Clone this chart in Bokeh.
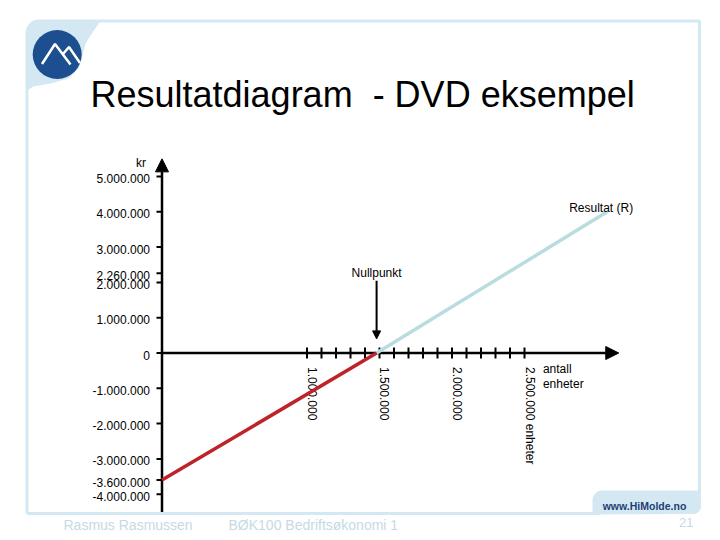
import numpy as np
from bokeh.plotting import figure
from bokeh.models import Range1d, Arrow, NormalHead
from bokeh.core.properties import value
from bokeh.embed import file_html
from bokeh.resources import INLINE

# ---------------- data ----------------
UNITS = [0, 1_480_000, 3_070_000]                 # antall enheter
RESULT = [-3_600_000, 0, 4_000_000]               # resultat (kr)
BREAK_EVEN_UNITS = 1_480_000

Y_TICKS = [5_000_000, 4_000_000, 3_000_000, 2_260_000, 2_000_000, 1_000_000, 0,
           -1_000_000, -2_000_000, -3_000_000, -3_600_000, -4_000_000]
Y_TICK_LABELS = ["5.000.000", "4.000.000", "3.000.000", "2.260.000", "2.000.000",
                 "1.000.000", "0", "-1.000.000", "-2.000.000", "-3.000.000",
                 "-3.600.000", "-4.000.000"]
X_TICKS = [1_000_000, 1_100_000, 1_200_000, 1_300_000, 1_400_000, 1_500_000,
           1_600_000, 1_700_000, 1_800_000, 1_900_000, 2_000_000, 2_100_000,
           2_200_000, 2_300_000, 2_400_000, 2_500_000]
X_LABEL_VALUES = [1_000_000, 1_500_000, 2_000_000, 2_500_000]
X_TICK_LABELS = ["1.000.000", "1.500.000", "2.000.000", "2.500.000 enheter"]

X_AXIS_END = 3_150_000
Y_AXIS_TOP = 5_500_000
Y_AXIS_BOTTOM = -4_550_000

TITLE = "Resultatdiagram \u00a0- DVD eksempel"

# ---------------- layout ----------------
W, H = 720, 540
X0_PX, X_SCALE = 161.5, 145e-6      # page pixel of units=0, px per unit
Y0_PX, Y_SCALE = 352.5, 35.3e-6     # page pixel of kr=0, px per kr

x_start = (0 - X0_PX) / X_SCALE
x_end = (W - X0_PX) / X_SCALE
y_start = (Y0_PX - H) / Y_SCALE
y_end = (Y0_PX - 0) / Y_SCALE

FONT = value("Liberation Sans")
FRAME = "#d3e8f3"
FOOT = "#c6dae4"
RED = "#bd2329"
LBLUE = "#b9dcdf"

p = figure(width=W, height=H, output_backend="svg", toolbar_location=None,
           x_range=Range1d(x_start, x_end), y_range=Range1d(y_start, y_end),
           x_axis_type=None, y_axis_type=None, min_border=0,
           outline_line_color=None, background_fill_color="white")
p.grid.visible = False
p.extra_x_ranges = {"px": Range1d(0, W)}
p.extra_y_ranges = {"px": Range1d(H, 0)}
PX = dict(x_range_name="px", y_range_name="px")


def arc(cx, cy, r, a0, a1, n=10):
    a = np.radians(np.linspace(a0, a1, n))
    return list(cx + r * np.cos(a)), list(cy + r * np.sin(a))

# ---------------- slide decoration ----------------
ax, ay = arc(38.5, 32.5, 12, 180, 270)
fill_x = [26.5] + ax + [100, 92, 85, 82, 78, 68, 50, 33, 26.5]
fill_y = [90] + ay + [20.5, 32, 43, 55, 68, 78, 83, 86, 90]
p.patch(fill_x, fill_y, fill_color=FRAME, line_color=None, **PX)

frame_x = [26.5, 26.5] + ax + [699, 699]
frame_y = [513, 32.5] + ay + [20.5, 508]
p.line(frame_x, frame_y, line_color=FRAME, line_width=3, **PX)
p.line([26.5, 600], [513, 513], line_color=FRAME, line_width=3, **PX)

tx1, ty1 = arc(602, 500, 10, 180, 270)
tx2, ty2 = arc(692.5, 505.5, 8, 0, 90)
p.patch([592] + tx1 + [700.5] + tx2 + [592],
        [514] + ty1 + [490] + ty2 + [514],
        fill_color=FRAME, line_color=None, **PX)
p.text([644], [505], text=["www.HiMolde.no"], text_font=FONT,
       text_font_size=value("10.5px"), text_font_style="bold",
       text_color="#1f3f73", text_align="center", text_baseline="middle", **PX)

# logo
p.circle([56.7], [54], radius=24.5, fill_color="#1c4e90", line_color=None, **PX)
p.multi_line([[41.5, 54.5, 70], [62.5, 68.5, 79.5]],
             [[63.5, 43.5, 64], [53.5, 46.5, 62.5]],
             line_color="white", line_width=2.5, **PX)

# title
p.text([90], [94], text=[TITLE], text_font=FONT, text_font_size=value("36px"),
       text_color="black", text_align="left", text_baseline="middle", **PX)

# footer
p.text([63, 228], [524, 524], text=["Rasmus Rasmussen", "BØK100 Bedriftsøkonomi 1"],
       text_font=FONT, text_font_size=value("14px"), text_color=FOOT,
       text_align="left", text_baseline="middle", **PX)
p.text([693], [522], text=["21"], text_font=FONT, text_font_size=value("13px"),
       text_color=FOOT, text_align="right", text_baseline="middle", **PX)

# ---------------- axes ----------------
y_tick_len = 5.5 / X_SCALE
x_tick_half = 5.5 / Y_SCALE
p.segment(x0=[0] * len(Y_TICKS), y0=Y_TICKS, x1=[-y_tick_len] * len(Y_TICKS),
          y1=Y_TICKS, line_color="black", line_width=2)
p.segment(x0=X_TICKS, y0=[-x_tick_half] * len(X_TICKS), x1=X_TICKS,
          y1=[x_tick_half] * len(X_TICKS), line_color="black", line_width=2)

p.add_layout(Arrow(x_start=0, y_start=0, x_end=X_AXIS_END, y_end=0,
                   line_color="black", line_width=2.5, level="underlay",
                   end=NormalHead(size=13, fill_color="black", line_color="black")))
p.add_layout(Arrow(x_start=0, y_start=Y_AXIS_BOTTOM, x_end=0, y_end=Y_AXIS_TOP,
                   line_color="black", line_width=2.5, level="underlay",
                   end=NormalHead(size=13, fill_color="black", line_color="black")))

p.text(x=[0] * len(Y_TICKS), y=Y_TICKS, text=Y_TICK_LABELS, text_font=FONT,
       text_font_size=value("12px"), text_color="black", text_align="right",
       text_baseline="middle", x_offset=-12, y_offset=2)
p.text(x=[0], y=[Y_AXIS_TOP], text=["kr"], text_font=FONT,
       text_font_size=value("12px"), text_color="black", text_align="right",
       text_baseline="middle", x_offset=-16, y_offset=4)

p.text(x=X_LABEL_VALUES, y=[0] * len(X_LABEL_VALUES), text=X_TICK_LABELS,
       text_font=FONT, text_font_size=value("12px"), text_color="black",
       text_align="left", text_baseline="middle", angle=-np.pi / 2,
       x_offset=5, y_offset=14)
p.text(x=[X_AXIS_END * 0.834] * 2, y=[0, 0], text=["antall", "enheter"],
       text_font=FONT, text_font_size=value("12px"), text_color="black",
       text_align="left", text_baseline="middle", y_offset=[16, 31])

# ---------------- result line ----------------
p.line(UNITS[:2], RESULT[:2], line_color=RED, line_width=3.5)
p.line(UNITS[1:], RESULT[1:], line_color=LBLUE, line_width=3.5)
p.text(x=[UNITS[-1]], y=[RESULT[-1]], text=["Resultat (R)"], text_font=FONT,
       text_font_size=value("12px"), text_color="black", text_align="center",
       text_baseline="middle", x_offset=-6, y_offset=-4)

# Nullpunkt arrow
p.add_layout(Arrow(x_start=BREAK_EVEN_UNITS, y_start=2_050_000,
                   x_end=BREAK_EVEN_UNITS, y_end=400_000,
                   line_color="black", line_width=2,
                   end=NormalHead(size=8, fill_color="black", line_color="black")))
p.text(x=[BREAK_EVEN_UNITS], y=[2_050_000], text=["Nullpunkt"], text_font=FONT,
       text_font_size=value("12px"), text_color="black", text_align="center",
       text_baseline="middle", y_offset=-8)

open("out.html", "w").write(file_html(p, INLINE))
